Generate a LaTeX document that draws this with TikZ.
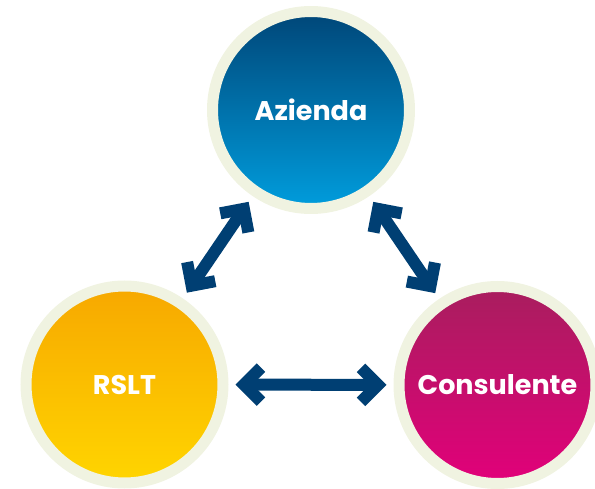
\documentclass[tikz,border=0pt]{standalone}
\usepackage{fontspec}
\setmainfont{Poppins}
\usetikzlibrary{arrows.meta}
\definecolor{anello}{HTML}{F0F3E1}
\definecolor{blu}{HTML}{003F73}
\begin{document}
\begin{tikzpicture}[x=1pt,y=1pt,
    cerchio/.style={draw=anello, circle, line width=11pt, minimum size=197pt, inner sep=0pt,
      text=white, font=\bfseries\fontsize{27}{30}\selectfont},
    doppia/.style={{Straight Barb[length=17pt,width=34pt]}-{Straight Barb[length=17pt,width=34pt]},
      draw=blu, line width=12pt, shorten <=7pt, shorten >=7pt}]
  \useasboundingbox (0,0) rectangle (595,488);

  % Cerchi
  \node[cerchio, top color={rgb,255:red,0;green,70;blue,120}, bottom color={rgb,255:red,0;green,157;blue,221}] (azienda) at (311,378) {Azienda};
  \node[cerchio, top color={rgb,255:red,247;green,168;blue,0}, bottom color={rgb,255:red,255;green,213;blue,0}] (rslt) at (124.5,103.5) {RSLT};
  \node[cerchio, top color={rgb,255:red,168;green,30;blue,94}, bottom color={rgb,255:red,226;green,0;blue,122}] (consulente) at (497.5,103) {Consulente};

  % Frecce
  \draw[doppia] (rslt) -- (azienda);
  \draw[doppia] (azienda) -- (consulente);
  \draw[doppia] (rslt) -- (consulente);
\end{tikzpicture}
\end{document}
